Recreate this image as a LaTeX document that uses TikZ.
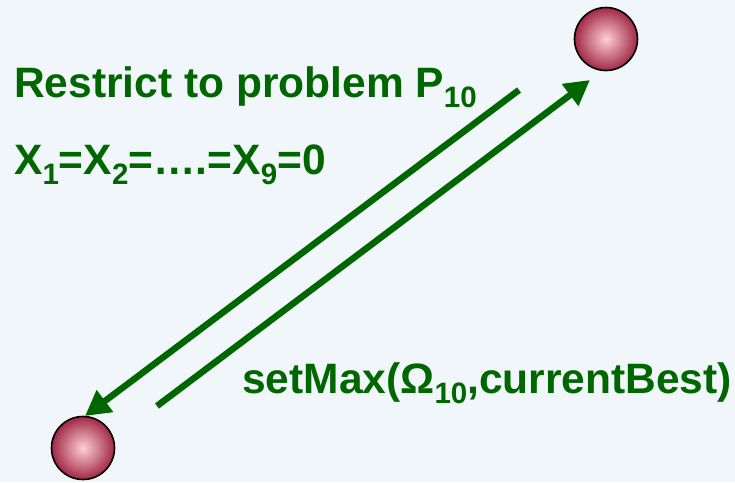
\documentclass[tikz,border=0pt]{standalone}
\usepackage{fontspec}
\setmainfont{Liberation Sans}
\usetikzlibrary{arrows.meta}
\definecolor{bg}{RGB}{240,246,249}
\definecolor{dgreen}{RGB}{0,102,0}
\definecolor{ballout}{RGB}{160,40,70}
\definecolor{ballin}{RGB}{255,208,210}
\tikzset{
  ball/.style={circle, minimum size=63pt, inner sep=0pt, draw=black, line width=1.6pt,
    inner color=ballin, outer color=ballout},
  lbl/.style={anchor=base west, inner sep=0pt, text=dgreen, font=\bfseries\fontsize{42.5}{48}\selectfont},
  arr/.style={draw=dgreen, line width=6.5pt, -{Triangle[length=25pt,width=26pt]}},
}
\newcommand{\sbx}[1]{\raisebox{-10pt}{\fontsize{29.5}{32}\selectfont #1}}
\begin{document}
\begin{tikzpicture}[x=1pt,y=-1pt]
\fill[bg] (0,0) rectangle (735,482);
\useasboundingbox (0,0) rectangle (735,482);
\node[ball] (top) at (606,39) {};
\node[ball] (bot) at (83,448) {};
\coordinate (a1s) at (519,90);
\coordinate (a1e) at (85,416);
\coordinate (a2s) at (157,406);
\coordinate (a2e) at (590,80);
\draw[arr] (a1s) -- (a1e);
\draw[arr] (a2s) -- (a2e);
\node[lbl] (t1) at (14,97) {Restrict to problem P\sbx{10}};
\node[lbl] (t2) at (14,174) {X\sbx{1}=X\sbx{2}=\dots.=X\sbx{9}=0};
\node[lbl] (t3) at (242,393) {setMax(Ω\sbx{10},currentBest)};
\end{tikzpicture}
\end{document}
